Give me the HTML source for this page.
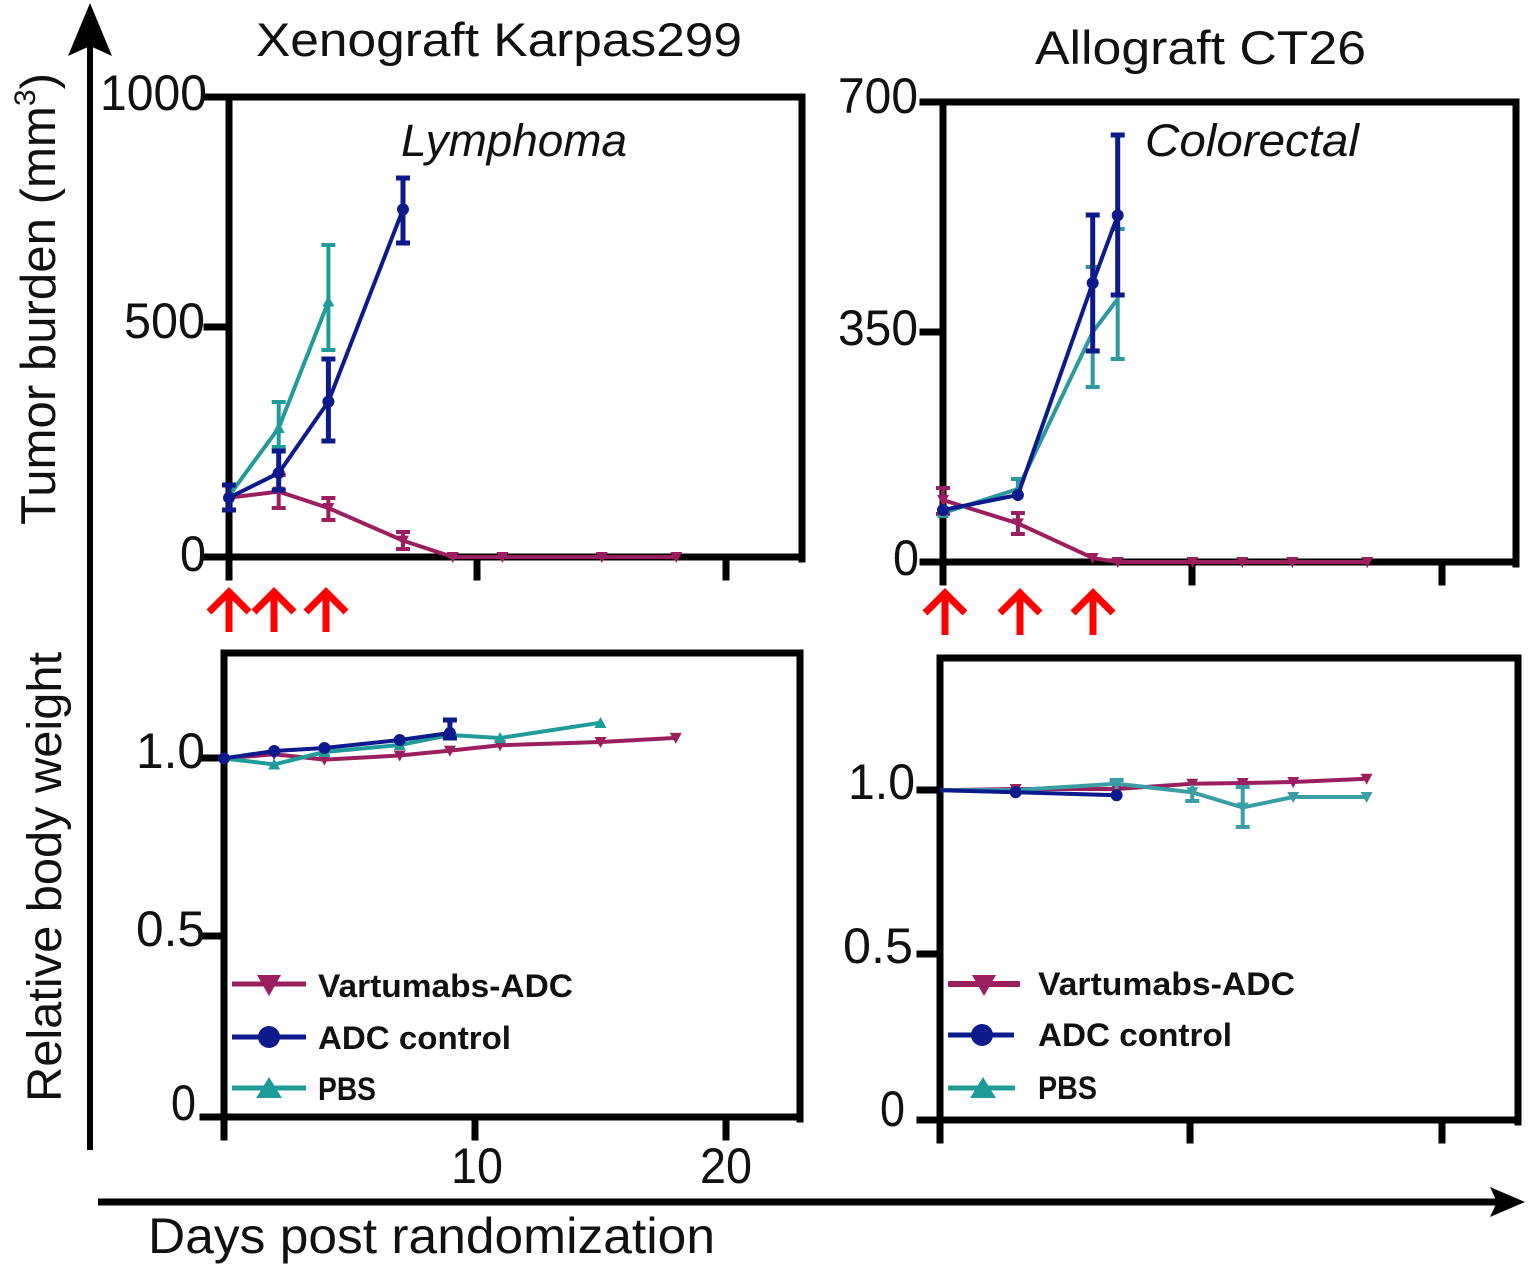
<!DOCTYPE html>
<html>
<head>
<meta charset="utf-8">
<style>
html,body{margin:0;padding:0;background:#fff;}
svg{display:block;}
text{font-family:"Liberation Sans",Arial,sans-serif;fill:#111;}
</style>
</head>
<body>
<svg width="1536" height="1274" viewBox="0 0 1536 1274" xmlns="http://www.w3.org/2000/svg">
<rect width="1536" height="1274" fill="#fff"/>

<!-- Big axes arrows -->
<line x1="90" y1="40" x2="90" y2="1150" stroke="#000" stroke-width="6"/>
<polygon points="90,3 112,56 90,46 68,56" fill="#000"/>
<line x1="98" y1="1202" x2="1498" y2="1202" stroke="#000" stroke-width="7"/>
<polygon points="1525,1202 1490,1187 1497,1202 1490,1217" fill="#000"/>

<!-- Axis labels -->
<text transform="translate(55,525) rotate(-90)" font-size="49" textLength="452" lengthAdjust="spacingAndGlyphs">Tumor burden (mm<tspan font-size="30" dy="-20">3</tspan><tspan dy="20">)</tspan></text>
<text transform="translate(61,1102) rotate(-90)" font-size="48" textLength="450" lengthAdjust="spacingAndGlyphs">Relative body weight</text>
<text x="148" y="1253" font-size="50" textLength="567" lengthAdjust="spacingAndGlyphs">Days post randomization</text>

<!-- Titles -->
<text x="256" y="56" font-size="47" textLength="486" lengthAdjust="spacingAndGlyphs">Xenograft Karpas299</text>
<text x="1035" y="64" font-size="47" textLength="331" lengthAdjust="spacingAndGlyphs">Allograft CT26</text>
<text x="401" y="156" font-size="45" font-style="italic" textLength="226" lengthAdjust="spacingAndGlyphs">Lymphoma</text>
<text x="1145" y="156" font-size="45" font-style="italic" textLength="214" lengthAdjust="spacingAndGlyphs">Colorectal</text>

<!-- ===== Top-left frame ===== -->
<g stroke="#000" stroke-width="7" fill="none" stroke-linecap="square">
<line x1="229" y1="97" x2="229" y2="577"/>
<line x1="207" y1="97" x2="802" y2="97"/>
<line x1="802" y1="97" x2="802" y2="559"/>
<line x1="207" y1="557" x2="802" y2="557"/>
<line x1="207" y1="327" x2="229" y2="327"/>
<line x1="477" y1="557" x2="477" y2="577"/>
<line x1="726" y1="557" x2="726" y2="577"/>
</g>
<text x="100" y="110" font-size="50" textLength="107" lengthAdjust="spacingAndGlyphs">1000</text>
<text x="124" y="338" font-size="50" textLength="81" lengthAdjust="spacingAndGlyphs">500</text>
<text x="180" y="571" font-size="50" textLength="26" lengthAdjust="spacingAndGlyphs">0</text>

<!-- ===== Top-right frame ===== -->
<g stroke="#000" stroke-width="7" fill="none" stroke-linecap="square">
<line x1="943" y1="102" x2="943" y2="582"/>
<line x1="923" y1="102" x2="1516" y2="102"/>
<line x1="1516" y1="102" x2="1516" y2="564"/>
<line x1="923" y1="562" x2="1516" y2="562"/>
<line x1="923" y1="332" x2="943" y2="332"/>
<line x1="1192" y1="562" x2="1192" y2="582"/>
<line x1="1442" y1="562" x2="1442" y2="582"/>
</g>
<text x="838" y="113" font-size="50" textLength="80" lengthAdjust="spacingAndGlyphs">700</text>
<text x="838" y="345" font-size="50" textLength="80" lengthAdjust="spacingAndGlyphs">350</text>
<text x="893" y="575" font-size="50" textLength="26" lengthAdjust="spacingAndGlyphs">0</text>

<!-- ===== Bottom-left frame ===== -->
<g stroke="#000" stroke-width="7" fill="none" stroke-linecap="square">
<line x1="224" y1="653" x2="224" y2="1137"/>
<line x1="224" y1="653" x2="800" y2="653"/>
<line x1="800" y1="653" x2="800" y2="1119"/>
<line x1="203" y1="1117" x2="800" y2="1117"/>
<line x1="203" y1="758" x2="224" y2="758"/>
<line x1="203" y1="936" x2="224" y2="936"/>
<line x1="475" y1="1117" x2="475" y2="1137"/>
<line x1="726" y1="1117" x2="726" y2="1137"/>
</g>
<text x="136" y="768" font-size="50" textLength="69" lengthAdjust="spacingAndGlyphs">1.0</text>
<text x="136" y="946" font-size="50" textLength="69" lengthAdjust="spacingAndGlyphs">0.5</text>
<text x="171" y="1120" font-size="50" textLength="25" lengthAdjust="spacingAndGlyphs">0</text>
<text x="451" y="1183" font-size="50" textLength="52" lengthAdjust="spacingAndGlyphs">10</text>
<text x="700" y="1183" font-size="50" textLength="52" lengthAdjust="spacingAndGlyphs">20</text>

<!-- ===== Bottom-right frame ===== -->
<g stroke="#000" stroke-width="7" fill="none" stroke-linecap="square">
<line x1="940" y1="658" x2="940" y2="1140"/>
<line x1="940" y1="658" x2="1518" y2="658"/>
<line x1="1518" y1="658" x2="1518" y2="1122"/>
<line x1="920" y1="1120" x2="1518" y2="1120"/>
<line x1="920" y1="790" x2="940" y2="790"/>
<line x1="920" y1="954" x2="940" y2="954"/>
<line x1="1190" y1="1120" x2="1190" y2="1140"/>
<line x1="1442" y1="1120" x2="1442" y2="1140"/>
</g>
<text x="848" y="799" font-size="50" textLength="67" lengthAdjust="spacingAndGlyphs">1.0</text>
<text x="843" y="963" font-size="50" textLength="70" lengthAdjust="spacingAndGlyphs">0.5</text>
<text x="880" y="1126" font-size="50" textLength="25" lengthAdjust="spacingAndGlyphs">0</text>

<!-- Red arrows -->
<g stroke="#ff0000" stroke-width="7" fill="none" stroke-linecap="butt" stroke-linejoin="miter">
<line x1="229" y1="592" x2="229" y2="632"/><polyline points="209,612 229,592 249,612"/>
<line x1="274" y1="592" x2="274" y2="632"/><polyline points="254,612 274,592 294,612"/>
<line x1="326" y1="592" x2="326" y2="632"/><polyline points="306,612 326,592 346,612"/>
<line x1="945" y1="593" x2="945" y2="635"/><polyline points="925,613 945,593 965,613"/>
<line x1="1020" y1="593" x2="1020" y2="635"/><polyline points="1000,613 1020,593 1040,613"/>
<line x1="1093" y1="593" x2="1093" y2="635"/><polyline points="1073,613 1093,593 1113,613"/>
</g>

<!-- ===== Top-left data ===== -->
<!-- Vartumabs -->
<g stroke="#9b1f5e" fill="#9b1f5e">
<polyline fill="none" stroke-width="4" points="229,497.7 278.7,491.6 328.4,508 403,540.6 452.7,557 502.4,557 601.8,557 676.3,557"/>
<g stroke-width="4">
<line x1="229" y1="485" x2="229" y2="510"/><line x1="222" y1="485" x2="236" y2="485"/><line x1="222" y1="510" x2="236" y2="510"/>
<line x1="278.7" y1="475" x2="278.7" y2="508"/><line x1="271.7" y1="475" x2="285.7" y2="475"/><line x1="271.7" y1="508" x2="285.7" y2="508"/>
<line x1="328.4" y1="498" x2="328.4" y2="520"/><line x1="321.4" y1="498" x2="335.4" y2="498"/><line x1="321.4" y1="520" x2="335.4" y2="520"/>
<line x1="403" y1="532" x2="403" y2="549"/><line x1="396" y1="532" x2="410" y2="532"/><line x1="396" y1="549" x2="410" y2="549"/>
</g>
<g stroke="none">
<polygon points="272.7,486.6 284.7,486.6 278.7,497.6"/>
<polygon points="322.4,503 334.4,503 328.4,514"/>
<polygon points="397,535.6 409,535.6 403,546.6"/>
<polygon points="446.7,552 458.7,552 452.7,563"/>
<polygon points="496.4,552 508.4,552 502.4,563"/>
<polygon points="595.8,552 607.8,552 601.8,563"/>
<polygon points="670.3,552 682.3,552 676.3,563"/>
</g>
</g>
<!-- PBS -->
<g stroke="#1f9c9a" fill="#1f9c9a">
<polyline fill="none" stroke-width="4" points="229,495.7 278.7,428 328.4,301.5"/>
<g stroke-width="4">
<line x1="278.7" y1="402" x2="278.7" y2="447"/><line x1="271.7" y1="402" x2="285.7" y2="402"/><line x1="271.7" y1="447" x2="285.7" y2="447"/>
<line x1="328.4" y1="245" x2="328.4" y2="350"/><line x1="321.4" y1="245" x2="335.4" y2="245"/><line x1="321.4" y1="350" x2="335.4" y2="350"/>
</g>
<g stroke="none">
<polygon points="272.7,433 284.7,433 278.7,422"/>
<polygon points="322.4,306.5 334.4,306.5 328.4,295.5"/>
</g>
</g>
<!-- ADC control -->
<g stroke="#0c1a8c" fill="#0c1a8c">
<polyline fill="none" stroke-width="4" points="229,497.7 278.7,473 328.4,401.6 403,209.4"/>
<g stroke-width="5">
<line x1="229" y1="485" x2="229" y2="510"/><line x1="222" y1="485" x2="236" y2="485"/><line x1="222" y1="510" x2="236" y2="510"/>
<line x1="278.7" y1="451" x2="278.7" y2="490"/><line x1="271.7" y1="451" x2="285.7" y2="451"/><line x1="271.7" y1="490" x2="285.7" y2="490"/>
<line x1="328.4" y1="359" x2="328.4" y2="441"/><line x1="321.4" y1="359" x2="335.4" y2="359"/><line x1="321.4" y1="441" x2="335.4" y2="441"/>
<line x1="403" y1="178" x2="403" y2="243"/><line x1="396" y1="178" x2="410" y2="178"/><line x1="396" y1="243" x2="410" y2="243"/>
</g>
<g stroke="none">
<circle cx="229" cy="497.7" r="6"/><circle cx="278.7" cy="473" r="6"/><circle cx="328.4" cy="401.6" r="6"/><circle cx="403" cy="209.4" r="6"/>
</g>
</g>

<!-- ===== Top-right data ===== -->
<g stroke="#9b1f5e" fill="#9b1f5e">
<polyline fill="none" stroke-width="4" points="943,500 1017.9,523.4 1092.7,558 1117.7,562 1192.5,562 1242.4,562 1292.3,562 1367.2,562"/>
<g stroke-width="4">
<line x1="943" y1="488" x2="943" y2="514"/><line x1="936" y1="488" x2="950" y2="488"/><line x1="936" y1="514" x2="950" y2="514"/>
<line x1="1017.9" y1="513" x2="1017.9" y2="534"/><line x1="1010.9" y1="513" x2="1024.9" y2="513"/><line x1="1010.9" y1="534" x2="1024.9" y2="534"/>
</g>
<g stroke="none">
<polygon points="937,495 949,495 943,506"/>
<polygon points="1011.9,518.4 1023.9,518.4 1017.9,529.4"/>
<polygon points="1086.7,553 1098.7,553 1092.7,564"/>
<polygon points="1111.7,557 1123.7,557 1117.7,568"/>
<polygon points="1186.5,557 1198.5,557 1192.5,568"/>
<polygon points="1236.4,557 1248.4,557 1242.4,568"/>
<polygon points="1286.3,557 1298.3,557 1292.3,568"/>
<polygon points="1361.2,557 1373.2,557 1367.2,568"/>
</g>
</g>
<g stroke="#2a9aa0" fill="#2a9aa0">
<polyline fill="none" stroke-width="4" points="943,513 1017.9,489 1092.7,332 1117.7,299"/>
<g stroke-width="4">
<line x1="1017.9" y1="479" x2="1017.9" y2="495"/><line x1="1010.9" y1="479" x2="1024.9" y2="479"/>
<line x1="1092.7" y1="267" x2="1092.7" y2="387"/><line x1="1085.7" y1="267" x2="1099.7" y2="267"/><line x1="1085.7" y1="387" x2="1099.7" y2="387"/>
<line x1="1117.7" y1="229" x2="1117.7" y2="359"/><line x1="1110.7" y1="229" x2="1124.7" y2="229"/><line x1="1110.7" y1="359" x2="1124.7" y2="359"/>
</g>
<g stroke="none">
<polygon points="937,518 949,518 943,507"/>
<polygon points="1011.9,494 1023.9,494 1017.9,483"/>
</g>
</g>
<g stroke="#0c1a8c" fill="#0c1a8c">
<polyline fill="none" stroke-width="4" points="943,510 1017.9,495 1092.7,283 1117.7,215.4"/>
<g stroke-width="5">
<line x1="1092.7" y1="215" x2="1092.7" y2="351"/><line x1="1085.7" y1="215" x2="1099.7" y2="215"/><line x1="1085.7" y1="351" x2="1099.7" y2="351"/>
<line x1="1117.7" y1="135" x2="1117.7" y2="295"/><line x1="1110.7" y1="135" x2="1124.7" y2="135"/><line x1="1110.7" y1="295" x2="1124.7" y2="295"/>
</g>
<g stroke="none">
<circle cx="943" cy="510" r="6"/><circle cx="1017.9" cy="495" r="6"/><circle cx="1092.7" cy="283" r="6"/><circle cx="1117.7" cy="215.4" r="6"/>
</g>
</g>

<!-- ===== Bottom-left data ===== -->
<g stroke="#9b1f5e" fill="#9b1f5e">
<polyline fill="none" stroke-width="4" points="224,758.4 274.2,754.3 324.4,759.6 399.7,755.5 449.9,750.6 500.1,745.3 600.5,742 675.8,737.9"/>
<g stroke="none">
<polygon points="268.2,749.3 280.2,749.3 274.2,760.3"/>
<polygon points="318.4,754.6 330.4,754.6 324.4,765.6"/>
<polygon points="393.7,750.5 405.7,750.5 399.7,761.5"/>
<polygon points="443.9,745.6 455.9,745.6 449.9,756.6"/>
<polygon points="494.1,740.3 506.1,740.3 500.1,751.3"/>
<polygon points="594.5,737 606.5,737 600.5,748"/>
<polygon points="669.8,732.9 681.8,732.9 675.8,743.9"/>
</g>
</g>
<g stroke="#1f9c9a" fill="#1f9c9a">
<polyline fill="none" stroke-width="4" points="224,758.4 274.2,764.5 324.4,752 399.7,745 449.9,735 500.1,738 600.5,722.7"/>
<g stroke="none">
<polygon points="268.2,769.5 280.2,769.5 274.2,758.5"/>
<polygon points="318.4,757 330.4,757 324.4,746"/>
<polygon points="393.7,750 405.7,750 399.7,739"/>
<polygon points="443.9,740 455.9,740 449.9,729"/>
<polygon points="494.1,743 506.1,743 500.1,732"/>
<polygon points="594.5,728 606.5,728 600.5,717"/>
</g>
</g>
<g stroke="#0c1a8c" fill="#0c1a8c">
<polyline fill="none" stroke-width="4" points="224,758.4 274.2,751 324.4,748 399.7,740 449.9,733"/>
<g stroke-width="5">
<line x1="449.9" y1="720" x2="449.9" y2="738"/><line x1="442.9" y1="720" x2="456.9" y2="720"/><line x1="442.9" y1="738" x2="456.9" y2="738"/>
</g>
<g stroke="none">
<circle cx="224" cy="758.4" r="6"/><circle cx="274.2" cy="751" r="6"/><circle cx="324.4" cy="748" r="6"/><circle cx="399.7" cy="740" r="6"/><circle cx="449.9" cy="733" r="6"/>
</g>
</g>

<!-- ===== Bottom-right data ===== -->
<g stroke="#9b1f5e" fill="#9b1f5e">
<polyline fill="none" stroke-width="4" points="940,790.3 1015.7,789 1116.6,789 1192.3,783.7 1242.7,783 1293.2,782 1366.6,778.8"/>
<g stroke="none">
<polygon points="1009.7,784 1021.7,784 1015.7,795"/>
<polygon points="1110.6,784 1122.6,784 1116.6,795"/>
<polygon points="1186.3,778.7 1198.3,778.7 1192.3,789.7"/>
<polygon points="1236.7,778 1248.7,778 1242.7,789"/>
<polygon points="1287.2,777 1299.2,777 1293.2,788"/>
<polygon points="1360.6,773.8 1372.6,773.8 1366.6,784.8"/>
</g>
</g>
<g stroke="#3a9ea4" fill="#3a9ea4">
<polyline fill="none" stroke-width="4" points="940,790.3 1015.7,790 1116.6,783.7 1192.3,792.3 1242.7,807.5 1293.2,797 1366.6,797"/>
<g stroke-width="4">
<line x1="1116.6" y1="780" x2="1116.6" y2="789"/><line x1="1109.6" y1="780" x2="1123.6" y2="780"/>
<line x1="1192.3" y1="785" x2="1192.3" y2="801"/><line x1="1185.3" y1="801" x2="1199.3" y2="801"/>
<line x1="1242.7" y1="787" x2="1242.7" y2="827"/><line x1="1235.7" y1="787" x2="1249.7" y2="787"/><line x1="1235.7" y1="827" x2="1249.7" y2="827"/>
</g>
<g stroke="none">
<polygon points="1110.6,778.7 1122.6,778.7 1116.6,789.7"/>
<polygon points="1186.3,787.3 1198.3,787.3 1192.3,798.3"/>
<polygon points="1236.7,802.5 1248.7,802.5 1242.7,813.5"/>
<polygon points="1287.2,792 1299.2,792 1293.2,803"/>
<polygon points="1360.6,792 1372.6,792 1366.6,803"/>
</g>
</g>
<g stroke="#0c1a8c" fill="#0c1a8c">
<polyline fill="none" stroke-width="4" points="940,790.3 1015.7,792.3 1116.6,795.2"/>
<g stroke="none">
<circle cx="1015.7" cy="792.3" r="6"/><circle cx="1116.6" cy="795.2" r="6"/>
</g>
</g>

<!-- ===== Legends ===== -->
<g>
<line x1="232" y1="984" x2="306" y2="984" stroke="#9b1f5e" stroke-width="5"/>
<polygon points="257,975 281,975 269,996" fill="#9b1f5e"/>
<line x1="232" y1="1037" x2="306" y2="1037" stroke="#0c1a8c" stroke-width="5"/>
<circle cx="269" cy="1037" r="11" fill="#0c1a8c"/>
<line x1="232" y1="1088" x2="306" y2="1088" stroke="#1f9c9a" stroke-width="5"/>
<polygon points="256,1098 282,1098 269,1077" fill="#1f9c9a"/>
<text x="318" y="997" font-size="32" font-weight="bold" textLength="255" lengthAdjust="spacingAndGlyphs">Vartumabs-ADC</text>
<text x="318" y="1049" font-size="32" font-weight="bold" textLength="193" lengthAdjust="spacingAndGlyphs">ADC control</text>
<text x="318" y="1100" font-size="32" font-weight="bold" textLength="58" lengthAdjust="spacingAndGlyphs">PBS</text>
</g>
<g>
<line x1="948" y1="984" x2="1020" y2="984" stroke="#9b1f5e" stroke-width="6"/>
<polygon points="972,975 996,975 984,996" fill="#9b1f5e"/>
<line x1="948" y1="1035" x2="1014" y2="1035" stroke="#0c1a8c" stroke-width="5"/>
<circle cx="982" cy="1035" r="11" fill="#0c1a8c"/>
<line x1="948" y1="1088" x2="1015" y2="1088" stroke="#1f9c9a" stroke-width="5"/>
<polygon points="970,1098 996,1098 983,1077" fill="#1f9c9a"/>
<text x="1038" y="995" font-size="32" font-weight="bold" textLength="257" lengthAdjust="spacingAndGlyphs">Vartumabs-ADC</text>
<text x="1038" y="1046" font-size="32" font-weight="bold" textLength="194" lengthAdjust="spacingAndGlyphs">ADC control</text>
<text x="1038" y="1099" font-size="32" font-weight="bold" textLength="59" lengthAdjust="spacingAndGlyphs">PBS</text>
</g>
</svg>
</body>
</html>
